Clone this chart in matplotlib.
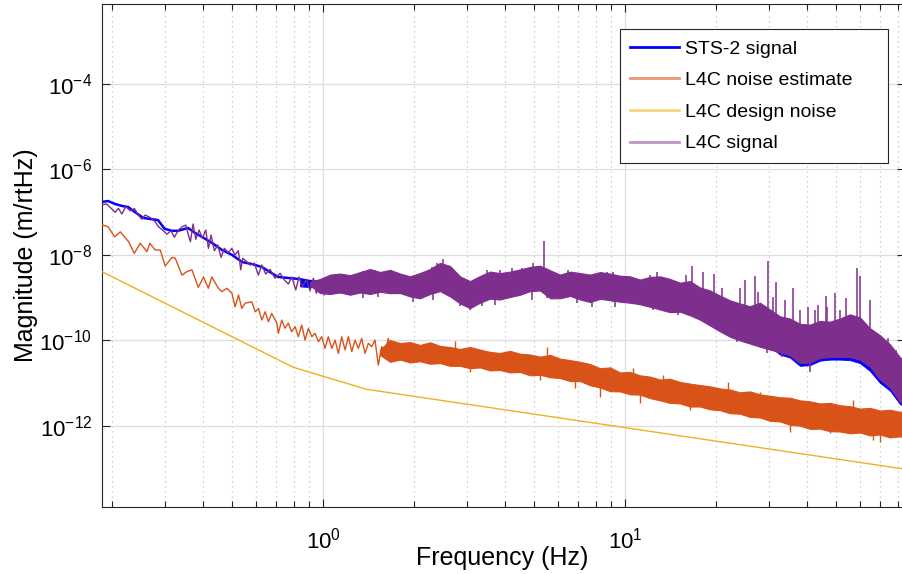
import matplotlib
matplotlib.use("Agg")
import matplotlib.pyplot as plt
from matplotlib.lines import Line2D
from matplotlib.patches import Rectangle
from matplotlib.ticker import LogLocator, FixedLocator, NullLocator, NullFormatter, LogFormatterSciNotation

plt.rcParams['font.family'] = ['Liberation Sans', 'DejaVu Sans']
plt.rcParams['axes.unicode_minus'] = False

# ---------------- data ----------------
series_names = ["STS-2 signal", "L4C noise estimate", "L4C design noise", "L4C signal"]
series_colors = ["#0000FF", "#D95319", "#EDB120", "#7E2F8E"]

# STS-2 signal, low-frequency part (line)
sts2_low_f = [0.185, 0.194, 0.205, 0.216, 0.226, 0.238, 0.254, 0.268, 0.284, 0.299,
              0.316, 0.331, 0.357, 0.377, 0.397, 0.429, 0.463, 0.500, 0.539, 0.582,
              0.628, 0.667, 0.710, 0.766, 0.827, 0.906, 0.990]
sts2_low_v = [1.70e-7, 1.79e-7, 1.52e-7, 1.37e-7, 1.30e-7, 9.9e-8, 7.2e-8, 6.8e-8, 6.4e-8, 4.0e-8,
              3.6e-8, 3.6e-8, 4.2e-8, 3.2e-8, 2.6e-8, 1.87e-8, 1.28e-8, 9.8e-9, 6.7e-9, 6.0e-9,
              5.1e-9, 3.9e-9, 3.0e-9, 2.84e-9, 2.7e-9, 2.4e-9, 2.3e-9]

# STS-2 signal, dense part (band envelope; mostly hidden under the L4C signal)
sts2_band_f = [0.839, 0.977, 1.138, 1.326, 1.544, 1.799, 2.095, 2.440, 2.842, 3.311,
               3.856, 4.491, 5.23, 6.09, 7.10, 8.27, 9.63, 11.21, 13.06, 15.21,
               17.72, 20.64, 24.03, 27.99, 30.21, 32.60, 35.19, 37.97, 40.98, 44.23,
               47.73, 51.51, 55.59, 59.99, 64.75, 69.88, 75.41, 81.38, 84.6]
sts2_band_hi = [2.6e-9, 2.5e-9, 2.8e-9, 3.0e-9, 3.1e-9, 2.8e-9, 2.4e-9, 3.6e-9, 1.8e-9, 2.1e-9,
                2.4e-9, 3.1e-9, 3.7e-9, 2.4e-9, 2.4e-9, 2.7e-9, 2.1e-9, 1.8e-9, 1.7e-9, 1.4e-9,
                9.0e-10, 5.4e-10, 3.6e-10, 2.9e-10, 4.5e-10, 2.6e-10, 2.5e-10, 1.8e-10, 1.8e-10, 2.2e-10,
                2.2e-10, 2.5e-10, 3.0e-10, 2.5e-10, 1.5e-10, 1.0e-10, 6.5e-11, 3.3e-11, 2.7e-11]
sts2_band_lo = [1.8e-9, 1.7e-9, 1.9e-9, 2.0e-9, 2.1e-9, 1.9e-9, 1.6e-9, 2.4e-9, 1.2e-9, 1.4e-9,
                1.6e-9, 2.1e-9, 2.5e-9, 1.6e-9, 1.6e-9, 1.8e-9, 1.4e-9, 1.2e-9, 1.1e-9, 9.0e-10,
                6.0e-10, 3.6e-10, 2.4e-10, 1.9e-10, 7.0e-11, 4.6e-11, 3.9e-11, 2.5e-11, 2.6e-11, 3.3e-11,
                3.5e-11, 3.5e-11, 3.4e-11, 2.9e-11, 1.9e-11, 1.0e-11, 6.6e-12, 3.2e-12, 2.8e-12]

# L4C noise estimate, low-frequency part (line)
noise_low_f = [0.186, 0.194, 0.204, 0.213, 0.227, 0.237, 0.248, 0.261, 0.267, 0.278,
               0.289, 0.300, 0.316, 0.324, 0.341, 0.354, 0.368, 0.386, 0.402, 0.417,
               0.428, 0.450, 0.462, 0.480, 0.499, 0.511, 0.525, 0.538, 0.552, 0.581,
               0.596, 0.611, 0.627, 0.643, 0.659, 0.676, 0.703, 0.711, 0.730, 0.748,
               0.767, 0.787, 0.808, 0.828, 0.850, 0.872, 0.894, 0.918, 0.941, 0.965,
               0.990, 1.015, 1.041, 1.069, 1.096, 1.124, 1.153, 1.183, 1.213, 1.245,
               1.276, 1.309, 1.343, 1.377, 1.413, 1.449, 1.486, 1.524, 1.564, 1.604,
               1.645, 1.689, 1.730]
noise_low_v = [4.9e-8, 4.5e-8, 2.6e-8, 3.4e-8, 2.0e-8, 1.07e-8, 1.84e-8, 1.17e-8, 1.84e-8, 1.28e-8,
               1.28e-8, 5.4e-9, 8.6e-9, 8.2e-9, 3.3e-9, 4.0e-9, 4.4e-9, 1.72e-9, 3.0e-9, 1.63e-9,
               3.0e-9, 1.63e-9, 1.36e-9, 1.63e-9, 1.25e-9, 6.0e-10, 1.13e-9, 5.5e-10, 7.3e-10, 7.9e-10,
               4.6e-10, 5.5e-10, 2.95e-10, 4.6e-10, 2.7e-10, 4.2e-10, 2.5e-10, 1.44e-10, 2.95e-10, 1.89e-10,
               2.5e-10, 1.57e-10, 2.06e-10, 1.2e-10, 2.25e-10, 1.0e-10, 1.89e-10, 1.2e-10, 1.44e-10, 9.2e-11,
               1.2e-10, 6.4e-11, 1.2e-10, 6.4e-11, 1.0e-10, 4.9e-11, 1.2e-10, 5.9e-11, 1.2e-10, 5.4e-11,
               1.0e-10, 6.4e-11, 1.1e-10, 4.9e-11, 8.4e-11, 7.0e-11, 1.0e-10, 2.6e-11, 7.0e-11, 4.9e-11,
               1.1e-10, 3.4e-11, 6.4e-11]

# L4C noise estimate, dense part (band envelope)
noise_band_f = [1.544, 1.667, 1.799, 1.941, 2.095, 2.261, 2.440, 2.634, 2.842, 3.067,
                3.311, 3.573, 3.856, 4.161, 4.491, 4.847, 5.23, 5.65, 6.09, 6.58,
                7.10, 7.66, 8.27, 8.92, 9.63, 10.39, 11.21, 12.10, 13.06, 14.09,
                15.21, 16.42, 17.72, 19.12, 20.64, 22.27, 24.03, 25.94, 27.99, 30.21,
                32.60, 35.19, 37.97, 40.98, 44.23, 47.73, 51.51, 55.59, 59.99, 64.75,
                69.88, 75.41, 81.38, 84.6]
noise_band_hi = [6.0e-11, 1.0e-10, 8.56e-11, 9.0e-11, 7.7e-11, 8.9e-11, 7.3e-11, 6.9e-11, 6.2e-11, 6.9e-11,
                 6.0e-11, 5.3e-11, 5.0e-11, 5.6e-11, 4.8e-11, 4.6e-11, 4.1e-11, 4.5e-11, 3.7e-11, 3.4e-11,
                 3.1e-11, 2.76e-11, 2.2e-11, 2.3e-11, 1.75e-11, 1.8e-11, 1.5e-11, 1.4e-11, 1.2e-11, 1.25e-11,
                 1.05e-11, 9.6e-12, 8.9e-12, 8.3e-12, 7.4e-12, 7.0e-12, 6.0e-12, 6.3e-12, 5.4e-12, 5.0e-12,
                 4.6e-12, 4.5e-12, 3.9e-12, 3.7e-12, 3.3e-12, 3.4e-12, 3.0e-12, 2.85e-12, 2.5e-12, 2.6e-12,
                 2.25e-12, 2.35e-12, 2.1e-12, 2.2e-12]
noise_band_lo = [4.5e-11, 3.1e-11, 3.5e-11, 3.0e-11, 3.2e-11, 2.8e-11, 2.9e-11, 2.5e-11, 2.5e-11, 2.2e-11,
                 2.3e-11, 1.95e-11, 2.0e-11, 1.75e-11, 1.8e-11, 1.5e-11, 1.55e-11, 1.35e-11, 1.3e-11, 1.1e-11,
                 1.1e-11, 8.8e-12, 7.8e-12, 6.4e-12, 6.3e-12, 5.4e-12, 5.3e-12, 4.4e-12, 3.9e-12, 3.4e-12,
                 3.3e-12, 2.8e-12, 2.8e-12, 2.4e-12, 2.3e-12, 1.95e-12, 1.9e-12, 1.6e-12, 1.55e-12, 1.3e-12,
                 1.25e-12, 1.05e-12, 1.0e-12, 8.4e-13, 8.5e-13, 7.4e-13, 7.3e-13, 6.6e-13, 6.9e-13, 5.9e-13,
                 6.2e-13, 5.3e-13, 5.6e-13, 5.2e-13]
noise_spike_f = [1.986, 2.227, 2.74, 3.067, 4.39, 5.23, 5.52, 6.83, 8.27, 10.63,
                 11.21, 13.36, 16.42, 21.9, 27.99, 34.4, 35.19, 47.73, 56.9, 66.2,
                 69.88]
noise_spike_hi = [7.7e-11, 7.3e-11, 9.5e-11, 4.5e-11, 5.0e-11, 2.62e-11, 6.9e-11, 2.0e-11, 1.79e-11, 2.23e-11,
                  1.17e-11, 1.53e-11, 5.2e-12, 1.05e-11, 6.1e-12, 2.32e-12, 4.0e-12, 1.35e-12, 4.0e-12, 1.03e-12,
                  2.2e-12]
noise_spike_lo = [4.5e-11, 4.3e-11, 3.43e-11, 1.79e-11, 2.62e-11, 1.17e-11, 1.79e-11, 7.6e-12, 4.67e-12, 8.9e-12,
                  3.38e-12, 6.8e-12, 2.32e-12, 3.03e-12, 3.03e-12, 1.22e-12, 7.1e-13, 6.7e-13, 1.35e-12, 4.6e-13,
                  4.13e-13]

# L4C design noise
design_f = [0.185, 0.797, 1.395, 84.6]
design_v = [4.0e-9, 2.31e-11, 7.06e-12, 9.6e-14]

# L4C signal, low-frequency part (line)
l4c_low_f = [0.185, 0.192, 0.197, 0.205, 0.210, 0.2156, 0.2222, 0.2296, 0.2372, 0.2445,
             0.2510, 0.2574, 0.2675, 0.2778, 0.2849, 0.2960, 0.3038, 0.3138, 0.3218, 0.3319,
             0.3421, 0.3510, 0.3581, 0.3636, 0.3711, 0.3789, 0.3885, 0.3983, 0.4088, 0.4172,
             0.4256, 0.4366, 0.4480, 0.4595, 0.4712, 0.4858, 0.4985, 0.5111, 0.5241, 0.5338,
             0.5420, 0.5590, 0.5731, 0.5922, 0.6106, 0.6266, 0.6459, 0.6675, 0.6934, 0.7205,
             0.7445, 0.7677, 0.7876, 0.8120, 0.8328, 0.8541, 0.8806, 0.9058, 0.9288, 0.9502,
             0.9774, 1.010, 1.041, 1.073]
l4c_low_v = [1.45e-7, 1.53e-7, 1.28e-7, 9.75e-8, 1.21e-7, 8.9e-8, 1.32e-7, 1.06e-7, 1.19e-7, 8.4e-8,
             6.7e-8, 8.4e-8, 7.4e-8, 5.9e-8, 4.5e-8, 3.6e-8, 3.0e-8, 3.6e-8, 2.54e-8, 3.76e-8,
             4.5e-8, 4.9e-8, 2.87e-8, 2.0e-8, 5.2e-8, 2.28e-8, 3.76e-8, 2.4e-8, 3.76e-8, 1.40e-8,
             2.87e-8, 1.23e-8, 1.68e-8, 8.6e-9, 1.40e-8, 1.11e-8, 1.40e-8, 9.8e-9, 1.23e-8, 4.4e-9,
             8.2e-9, 6.8e-9, 5.7e-9, 6.3e-9, 3.3e-9, 5.7e-9, 3.5e-9, 4.5e-9, 2.8e-9, 3.66e-9,
             2.55e-9, 2.05e-9, 3.0e-9, 1.49e-9, 3.0e-9, 1.77e-9, 2.64e-9, 1.43e-9, 2.8e-9, 1.25e-9,
             2.32e-9, 1.14e-9, 2.55e-9, 1.72e-9]

# L4C signal, dense part (band envelope)
l4c_band_f = [0.906, 0.977, 1.055, 1.138, 1.229, 1.326, 1.431, 1.544, 1.667,
              1.799, 1.941, 2.095, 2.261, 2.440, 2.634, 2.842, 3.067, 3.311, 3.573,
              3.856, 4.161, 4.491, 4.847, 5.23, 5.65, 6.09, 6.58, 7.10, 7.66,
              8.27, 8.92, 9.63, 10.39, 11.21, 12.10, 13.06, 14.09, 15.21, 16.42,
              17.72, 19.12, 20.64, 22.27, 24.03, 25.94, 27.99, 30.21, 32.60, 35.19,
              37.97, 40.98, 44.23, 47.73, 51.51, 55.59, 59.99, 64.75, 69.88, 75.41,
              81.38, 84.6]
l4c_band_hi = [2.3e-9, 2.69e-9, 3.4e-9, 3.6e-9, 3.3e-9, 3.9e-9, 4.6e-9, 3.92e-9, 4.4e-9,
               3.6e-9, 3.1e-9, 3.71e-9, 4.6e-9, 6.4e-9, 5.41e-9, 3.1e-9, 2.4e-9, 3.16e-9, 4.0e-9,
               3.7e-9, 4.0e-9, 4.5e-9, 5.13e-9, 5.5e-9, 4.3e-9, 3.4e-9, 4.0e-9, 3.7e-9, 3.4e-9,
               3.9e-9, 3.6e-9, 3.2e-9, 3.1e-9, 2.6e-9, 3.0e-9, 3.1e-9, 2.7e-9, 2.2e-9, 2.4e-9,
               1.7e-9, 1.45e-9, 1.1e-9, 8.5e-10, 7.2e-10, 6.2e-10, 7.5e-10, 5.2e-10, 3.6e-10, 3.2e-10,
               2.4e-10, 2.3e-10, 2.8e-10, 2.7e-10, 3.2e-10, 4.0e-10, 3.4e-10, 1.9e-10, 1.3e-10, 8.0e-11,
               4.0e-11, 3.1e-11]
l4c_band_lo = [1.9e-9, 1.26e-9, 1.2e-9, 1.3e-9, 1.15e-9, 1.3e-9, 1.2e-9, 1.35e-9, 1.25e-9,
               1.26e-9, 1.05e-9, 9.5e-10, 1.2e-9, 1.4e-9, 1.05e-9, 7.2e-10, 5.6e-10, 7.5e-10, 9.3e-10,
               8.9e-10, 1.02e-9, 1.15e-9, 1.4e-9, 1.45e-9, 9.5e-10, 9.5e-10, 1.08e-9, 8.9e-10, 7.8e-10,
               9.2e-10, 8.6e-10, 7.9e-10, 7.5e-10, 6.9e-10, 6.0e-10, 5.2e-10, 4.5e-10, 4.6e-10, 3.8e-10,
               3.0e-10, 2.2e-10, 1.6e-10, 1.2e-10, 9.8e-11, 8.3e-11, 7.0e-11, 6.0e-11, 5.2e-11, 4.4e-11,
               2.9e-11, 3.0e-11, 3.81e-11, 4.03e-11, 4.1e-11, 4.0e-11, 3.5e-11, 2.4e-11, 1.2e-11, 7.8e-12,
               3.6e-12, 3.1e-12]
l4c_spike_f = [1.357, 1.486, 2.296, 2.386, 2.497, 3.49, 3.856, 4.23, 4.56, 4.96,
               5.39, 6.48, 7.48, 8.72, 9.13, 12.10, 12.76, 14.31, 15.92, 16.67,
               18.13, 19.71, 20.95, 24.03, 24.97, 26.94, 27.56, 29.76, 30.91, 31.6,
               33.87, 35.98, 37.97, 40.36, 42.57, 43.5, 46.3, 46.66, 49.6, 51.51,
               53.9, 58.7, 60.0, 64.75, 74.3, 78.9]
l4c_spike_top = [4.1e-9, 4.36e-9, 5.13e-9, 6.4e-9, 7.9e-9, 4.4e-9, 4.36e-9, 4.86e-9, 4.86e-9, 6.36e-9,
                 2.08e-8, 4.4e-9, 3.33e-9, 3.92e-9, 3.92e-9, 3.3e-9, 3.9e-9, 2.55e-9, 3.3e-9, 5.4e-9,
                 3.9e-9, 3.5e-9, 1.66e-9, 1.66e-9, 2.55e-9, 3.16e-9, 1.33e-9, 7.1e-9, 1.02e-9, 2.29e-9,
                 8.67e-10, 1.66e-9, 5.06e-10, 5.95e-10, 5.06e-10, 6.6e-10, 1.08e-9, 5.95e-10, 1.26e-9, 5.06e-10,
                 9.7e-10, 4.9e-9, 3.16e-9, 8.7e-10, 1.12e-10, 5.9e-11]
l4c_spike_base = [2.2e-9, 2.3e-9, 1.95e-9, 2.55e-9, 2.55e-9, 1.95e-9, 1.95e-9, 1.95e-9, 2.55e-9, 2.55e-9,
                  2.55e-9, 1.95e-9, 1.66e-9, 1.66e-9, 1.66e-9, 1.14e-9, 1.14e-9, 8.67e-10, 8.7e-10, 8.7e-10,
                  6.6e-10, 5.1e-10, 3.9e-10, 2.95e-10, 2.95e-10, 2.95e-10, 2.25e-10, 2.25e-10, 1.72e-10, 1.72e-10,
                  1.31e-10, 1.31e-10, 1.0e-10, 1.0e-10, 1.0e-10, 1.31e-10, 1.31e-10, 1.0e-10, 1.31e-10, 1.0e-10,
                  1.31e-10, 1.31e-10, 1.31e-10, 7.7e-11, 2.0e-11, 1.17e-11]
l4c_dip_f = [1.357, 1.521, 1.986, 2.313, 2.842, 3.067, 3.36, 3.71, 4.92, 5.52,
             6.93, 7.78, 9.13, 9.27, 12.38, 14.98, 17.31, 20.16, 23.5, 29.5,
             33.1, 40.98, 73.7]
l4c_dip_bottom = [9.66e-10, 1.02e-9, 7.79e-10, 8.67e-10, 6.3e-10, 5.06e-10, 6.3e-10, 6.62e-10, 8.67e-10, 9.66e-10,
                  7.38e-10, 5.95e-10, 7.79e-10, 5.95e-10, 5.06e-10, 3.9e-10, 3.47e-10, 1.92e-10, 9.0e-11, 5.0e-11,
                  4.03e-11, 1.79e-11, 8.9e-12]
l4c_dip_base = [2.17e-9, 2.29e-9, 1.95e-9, 2.17e-9, 1.49e-9, 1.14e-9, 1.49e-9, 1.75e-9, 1.95e-9, 2.55e-9,
                1.66e-9, 1.66e-9, 1.75e-9, 1.49e-9, 1.33e-9, 8.67e-10, 8.67e-10, 5.06e-10, 2.95e-10, 1.72e-10,
                1.31e-10, 7.7e-11, 3.43e-11]

y_ticks = [1e-12, 1e-10, 1e-8, 1e-6, 1e-4]
x_limits = (0.1853, 84.6)
y_limits = (1.27e-14, 7.1e-3)

# ---------------- figure ----------------
fig = plt.figure(figsize=(9.02, 5.74), dpi=100)
ax = fig.add_axes([102 / 902, 1 - 506.7 / 574, 803 / 902, 502.3 / 574])
ax.set_xscale('log')
ax.set_yscale('log')

c_blue, c_orange, c_yellow, c_purple = series_colors

# STS-2
ax.plot(sts2_low_f, sts2_low_v, color=c_blue, lw=1.8, zorder=2, solid_joinstyle='round')
ax.fill_between(sts2_band_f, sts2_band_lo, sts2_band_hi, color=c_blue, lw=0.6, zorder=2)

# L4C noise estimate
ax.plot(noise_low_f, noise_low_v, color=c_orange, lw=1.0, zorder=3)
ax.fill_between(noise_band_f, noise_band_lo, noise_band_hi, color=c_orange, lw=0.8, zorder=3)
ax.vlines(noise_spike_f, noise_spike_lo, noise_spike_hi, color=c_orange, lw=1.0, zorder=3)

# L4C design noise
ax.plot(design_f, design_v, color=c_yellow, lw=1.0, zorder=4)

# L4C signal
ax.plot(l4c_low_f, l4c_low_v, color=c_purple, lw=1.0, zorder=5)
ax.fill_between(l4c_band_f, l4c_band_lo, l4c_band_hi, color=c_purple, lw=0.8, zorder=5)
ax.vlines(l4c_spike_f, l4c_spike_base, l4c_spike_top, color=c_purple, lw=1.1, zorder=5)
ax.vlines(l4c_dip_f, l4c_dip_bottom, l4c_dip_base, color=c_purple, lw=1.1, zorder=5)

ax.set_xlim(*x_limits)
ax.set_ylim(*y_limits)

ax.xaxis.set_major_locator(LogLocator(base=10, numticks=20))
ax.xaxis.set_minor_locator(LogLocator(base=10, subs=[2, 3, 4, 5, 6, 7, 8, 9], numticks=50))
ax.xaxis.set_minor_formatter(NullFormatter())
ax.xaxis.set_major_formatter(LogFormatterSciNotation())
ax.yaxis.set_major_locator(FixedLocator(y_ticks))
ax.yaxis.set_minor_locator(NullLocator())
ax.yaxis.set_major_formatter(LogFormatterSciNotation())

ax.set_axisbelow(True)
ax.grid(which='major', axis='both', color='#dedede', lw=0.9, ls='-')
ax.xaxis.grid(which='minor', color='#c4c4c4', lw=0.9, ls=(0, (1, 3)))

ax.tick_params(which='both', direction='in', top=True, right=True, color='#262626', width=0.8)
ax.tick_params(which='major', length=6)
ax.tick_params(which='minor', length=4)
ax.tick_params(axis='y', which='major', labelsize=16, pad=7)
ax.tick_params(axis='x', which='major', labelsize=16, pad=15)
for sp in ax.spines.values():
    sp.set_color('#262626')
    sp.set_linewidth(0.8)

ax.set_xlabel("Frequency (Hz)", fontsize=18)
ax.set_ylabel("Magnitude (m/rtHz)", fontsize=18)
ax.xaxis.set_label_coords(0.498, -0.079)
ax.yaxis.set_label_coords(-0.080, 0.5)

# legend: MATLAB-style box drawn separately, entries placed inside it
box = Rectangle((620 / 902, 1 - 163 / 574), 268 / 902, 134 / 574, transform=fig.transFigure,
                facecolor='white', edgecolor='#262626', lw=0.8, zorder=1)
fig.patches.append(box)
handles = [
    Line2D([], [], color=c_blue, lw=2.0),
    Line2D([], [], color=c_orange, lw=2.0, alpha=0.6),
    Line2D([], [], color=c_yellow, lw=2.0, alpha=0.55),
    Line2D([], [], color=c_purple, lw=2.0, alpha=0.5),
]
leg = fig.legend(handles, series_names, loc='upper left',
                 bbox_to_anchor=(630 / 902, 1 - 40 / 574), bbox_transform=fig.transFigure,
                 borderaxespad=0, borderpad=0, fontsize=14, frameon=False,
                 handlelength=2.52, handletextpad=0.31, labelspacing=0.72)
leg.set_zorder(5)

fig.savefig("out.png", dpi=100, facecolor='white')
